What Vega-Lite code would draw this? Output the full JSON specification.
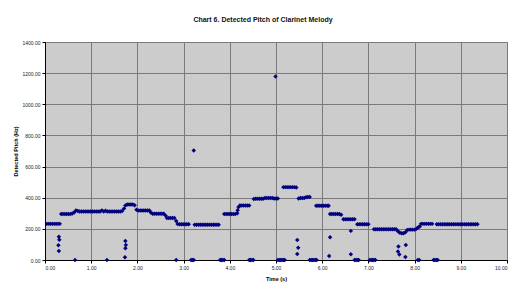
{
  "$schema": "https://vega.github.io/schema/vega-lite/v6.json",
  "width": 462,
  "height": 218,
  "autosize": "none",
  "padding": {"left": 45, "top": 42, "right": 9, "bottom": 22},
  "background": "white",
  "title": {"text": "Chart 6. Detected Pitch of Clarinet Melody", "fontSize": 7, "fontWeight": "bold", "font": "Liberation Sans", "color": "#111", "anchor": "middle", "frame": "group", "offset": 17, "dx": -13},
  "config": {
    "font": "Liberation Sans",
    "view": {"fill": "#CCCCCC", "stroke": "#808080", "strokeWidth": 1},
    "axis": {"labelFontSize": 5, "labelColor": "#222", "tickSize": 3, "tickColor": "#000", "domainColor": "#000", "gridColor": "#7a7a7a", "gridWidth": 1, "gridOpacity": 1, "titleFontSize": 5.5, "titleFontWeight": "bold", "titleColor": "#000", "labelPadding": 2}
  },
  "data": {"values": [
    {"t":0.04,"hz":232},{"t":0.08,"hz":232},{"t":0.12,"hz":232},{"t":0.16,"hz":232},{"t":0.20,"hz":232},{"t":0.24,"hz":232},{"t":0.28,"hz":232},{"t":0.32,"hz":232},
    {"t":0.35,"hz":295},{"t":0.39,"hz":295},{"t":0.43,"hz":295},{"t":0.47,"hz":295},{"t":0.51,"hz":295},{"t":0.55,"hz":296},{"t":0.59,"hz":298},
    {"t":0.63,"hz":305},{"t":0.67,"hz":318},{"t":0.71,"hz":314},{"t":0.75,"hz":312},{"t":0.79,"hz":312},{"t":0.83,"hz":312},{"t":0.87,"hz":312},{"t":0.91,"hz":312},{"t":0.95,"hz":312},{"t":0.99,"hz":312},{"t":1.03,"hz":312},{"t":1.07,"hz":312},{"t":1.11,"hz":312},{"t":1.15,"hz":312},{"t":1.19,"hz":312},{"t":1.23,"hz":318},{"t":1.27,"hz":312},{"t":1.31,"hz":316},{"t":1.35,"hz":312},{"t":1.39,"hz":312},{"t":1.43,"hz":312},{"t":1.47,"hz":312},{"t":1.51,"hz":312},{"t":1.55,"hz":312},{"t":1.59,"hz":312},{"t":1.63,"hz":312},{"t":1.67,"hz":315},{"t":1.71,"hz":330},
    {"t":1.74,"hz":350},{"t":1.78,"hz":356},{"t":1.82,"hz":356},{"t":1.86,"hz":356},{"t":1.90,"hz":356},{"t":1.94,"hz":352},
    {"t":1.98,"hz":322},{"t":2.02,"hz":318},{"t":2.06,"hz":318},{"t":2.10,"hz":318},{"t":2.14,"hz":318},{"t":2.18,"hz":318},{"t":2.22,"hz":318},{"t":2.26,"hz":318},
    {"t":2.29,"hz":305},{"t":2.33,"hz":297},{"t":2.37,"hz":297},{"t":2.41,"hz":297},{"t":2.45,"hz":297},{"t":2.49,"hz":297},{"t":2.53,"hz":297},{"t":2.57,"hz":297},
    {"t":2.61,"hz":285},{"t":2.64,"hz":270},{"t":2.68,"hz":270},{"t":2.72,"hz":270},{"t":2.76,"hz":270},{"t":2.80,"hz":270},
    {"t":2.84,"hz":250},{"t":2.87,"hz":231},{"t":2.91,"hz":230},{"t":2.95,"hz":230},{"t":2.99,"hz":230},{"t":3.03,"hz":230},{"t":3.07,"hz":230},{"t":3.11,"hz":230},
    {"t":3.24,"hz":227},{"t":3.28,"hz":227},{"t":3.32,"hz":227},{"t":3.36,"hz":227},{"t":3.40,"hz":227},{"t":3.44,"hz":227},{"t":3.48,"hz":227},{"t":3.52,"hz":227},{"t":3.56,"hz":227},{"t":3.60,"hz":227},{"t":3.64,"hz":227},{"t":3.68,"hz":227},{"t":3.72,"hz":227},{"t":3.76,"hz":227},
    {"t":3.88,"hz":295},{"t":3.92,"hz":295},{"t":3.96,"hz":295},{"t":4.00,"hz":295},{"t":4.04,"hz":295},{"t":4.08,"hz":295},{"t":4.12,"hz":295},{"t":4.16,"hz":300},
    {"t":4.17,"hz":320},{"t":4.19,"hz":340},{"t":4.22,"hz":350},{"t":4.26,"hz":350},{"t":4.30,"hz":350},{"t":4.34,"hz":350},{"t":4.38,"hz":350},{"t":4.42,"hz":350},
    {"t":4.52,"hz":392},{"t":4.56,"hz":393},{"t":4.60,"hz":393},{"t":4.64,"hz":393},{"t":4.68,"hz":393},{"t":4.72,"hz":393},{"t":4.76,"hz":398},{"t":4.80,"hz":398},{"t":4.84,"hz":398},{"t":4.88,"hz":398},{"t":4.92,"hz":398},{"t":4.96,"hz":395},{"t":5.00,"hz":395},{"t":5.04,"hz":395},
    {"t":5.16,"hz":468},{"t":5.20,"hz":468},{"t":5.24,"hz":468},{"t":5.28,"hz":468},{"t":5.32,"hz":468},{"t":5.36,"hz":468},{"t":5.40,"hz":468},{"t":5.44,"hz":466},
    {"t":5.49,"hz":395},{"t":5.53,"hz":398},{"t":5.57,"hz":398},{"t":5.61,"hz":398},{"t":5.65,"hz":403},{"t":5.69,"hz":405},{"t":5.73,"hz":405},
    {"t":5.87,"hz":348},{"t":5.91,"hz":348},{"t":5.95,"hz":348},{"t":5.99,"hz":348},{"t":6.03,"hz":348},{"t":6.07,"hz":348},{"t":6.11,"hz":348},{"t":6.14,"hz":348},
    {"t":6.17,"hz":295},{"t":6.21,"hz":295},{"t":6.25,"hz":295},{"t":6.29,"hz":295},{"t":6.33,"hz":295},{"t":6.37,"hz":295},{"t":6.41,"hz":290},
    {"t":6.46,"hz":262},{"t":6.50,"hz":262},{"t":6.54,"hz":262},{"t":6.58,"hz":262},{"t":6.62,"hz":262},{"t":6.66,"hz":262},{"t":6.70,"hz":262},
    {"t":6.76,"hz":230},{"t":6.80,"hz":230},{"t":6.84,"hz":230},{"t":6.88,"hz":230},{"t":6.92,"hz":230},{"t":6.96,"hz":230},{"t":7.00,"hz":230},
    {"t":7.12,"hz":198},{"t":7.16,"hz":198},{"t":7.20,"hz":198},{"t":7.24,"hz":198},{"t":7.28,"hz":198},{"t":7.32,"hz":198},{"t":7.36,"hz":198},{"t":7.40,"hz":198},{"t":7.44,"hz":198},{"t":7.48,"hz":198},{"t":7.52,"hz":198},{"t":7.56,"hz":198},{"t":7.60,"hz":198},
    {"t":7.64,"hz":185},{"t":7.68,"hz":175},{"t":7.72,"hz":172},{"t":7.76,"hz":172},{"t":7.80,"hz":178},
    {"t":7.84,"hz":192},{"t":7.88,"hz":195},{"t":7.92,"hz":195},{"t":7.96,"hz":195},{"t":8.00,"hz":195},{"t":8.04,"hz":200},
    {"t":8.08,"hz":210},{"t":8.11,"hz":215},
    {"t":8.14,"hz":232},{"t":8.18,"hz":232},{"t":8.22,"hz":232},{"t":8.26,"hz":232},{"t":8.30,"hz":232},{"t":8.34,"hz":232},{"t":8.38,"hz":232},
    {"t":8.48,"hz":230},{"t":8.52,"hz":230},{"t":8.56,"hz":230},{"t":8.60,"hz":230},{"t":8.64,"hz":230},{"t":8.68,"hz":230},{"t":8.72,"hz":230},{"t":8.76,"hz":230},{"t":8.80,"hz":230},{"t":8.84,"hz":230},{"t":8.88,"hz":230},{"t":8.92,"hz":230},{"t":8.96,"hz":230},{"t":9.00,"hz":230},{"t":9.04,"hz":230},{"t":9.08,"hz":230},{"t":9.12,"hz":230},{"t":9.16,"hz":230},{"t":9.20,"hz":230},{"t":9.24,"hz":230},{"t":9.28,"hz":230},{"t":9.32,"hz":230},{"t":9.36,"hz":230},
    {"t":0.30,"hz":150},{"t":0.31,"hz":130},{"t":0.29,"hz":95},{"t":0.30,"hz":58},
    {"t":0.65,"hz":0},{"t":1.34,"hz":0},
    {"t":1.74,"hz":122},{"t":1.75,"hz":97},{"t":1.74,"hz":75},{"t":1.73,"hz":18},
    {"t":2.84,"hz":0},
    {"t":3.22,"hz":703},
    {"t":3.16,"hz":0},{"t":3.19,"hz":0},{"t":3.22,"hz":0},
    {"t":3.79,"hz":0},{"t":3.82,"hz":0},{"t":3.85,"hz":0},{"t":3.88,"hz":0},
    {"t":4.42,"hz":0},{"t":4.45,"hz":0},{"t":4.48,"hz":0},{"t":4.51,"hz":0},
    {"t":4.99,"hz":1178},
    {"t":5.04,"hz":0},{"t":5.07,"hz":0},{"t":5.10,"hz":0},{"t":5.13,"hz":0},{"t":5.16,"hz":0},{"t":5.19,"hz":0},
    {"t":5.46,"hz":129},{"t":5.48,"hz":78},{"t":5.46,"hz":38},
    {"t":5.73,"hz":0},{"t":5.76,"hz":0},{"t":5.79,"hz":0},{"t":5.82,"hz":0},{"t":5.85,"hz":0},{"t":5.88,"hz":0},
    {"t":6.17,"hz":146},{"t":6.15,"hz":26},
    {"t":6.62,"hz":187},{"t":6.62,"hz":37},
    {"t":6.70,"hz":0},{"t":6.73,"hz":0},{"t":6.76,"hz":0},{"t":6.79,"hz":0},
    {"t":7.03,"hz":0},{"t":7.06,"hz":0},{"t":7.09,"hz":0},{"t":7.12,"hz":0},{"t":7.15,"hz":0},
    {"t":7.65,"hz":86},{"t":7.64,"hz":54},{"t":7.67,"hz":36},{"t":7.81,"hz":97},{"t":7.80,"hz":19},
    {"t":8.07,"hz":0},{"t":8.10,"hz":0},
    {"t":8.41,"hz":0},{"t":8.44,"hz":0},{"t":8.47,"hz":0},{"t":8.50,"hz":0}
  ]},
  "mark": {"type": "point", "shape": "diamond", "filled": true, "size": 20, "color": "#000080", "opacity": 1},
  "encoding": {
    "x": {"field": "t", "type": "quantitative", "title": "Time (s)", "scale": {"domain": [0, 10], "nice": false, "zero": true}, "axis": {"values": [0,1,2,3,4,5,6,7,8,9,10], "format": ".2f", "titlePadding": 6}},
    "y": {"field": "hz", "type": "quantitative", "title": "Detected Pitch (Hz)", "scale": {"domain": [0, 1400], "nice": false}, "axis": {"values": [0,200,400,600,800,1000,1200,1400], "format": ".2f", "titlePadding": 3}}
  }
}
